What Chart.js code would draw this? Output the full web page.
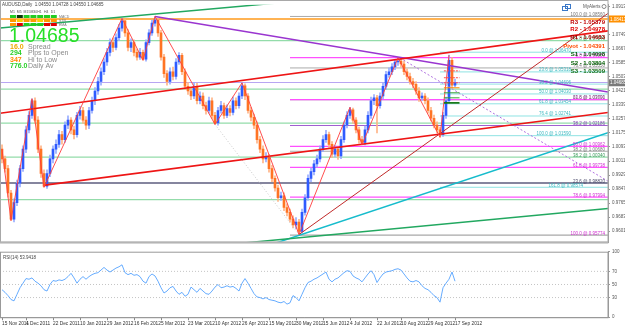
<!DOCTYPE html>
<html><head><meta charset="utf-8">
<script src="https://cdn.jsdelivr.net/npm/chart.js@4/dist/chart.umd.min.js"></script>
<style>
html,body{margin:0;padding:0;background:#fff;}
#wrap{position:relative;width:625px;height:328px;overflow:hidden;background:#fff;}
#c1{position:absolute;left:0;top:0;}
#c2{position:absolute;left:0;top:247px;}
</style></head><body>
<div id="wrap"><canvas id="c1" width="625" height="247"></canvas><canvas id="c2" width="625" height="81"></canvas></div>
<script>
// ---------------- DATA ----------------
const opens=[1.0080,1.0023,0.9966,0.9824,0.9671,0.9768,0.9881,0.9966,1.0080,1.0193,
1.0278,1.0363,1.0250,1.0080,0.9938,0.9864,0.9938,1.0023,1.0080,1.0108,
1.0165,1.0136,1.0221,1.0250,1.0193,1.0165,1.0278,1.0306,1.0250,1.0221,
1.0306,1.0363,1.0420,1.0476,1.0533,1.0590,1.0646,1.0703,1.0675,1.0732,
1.0788,1.0830,1.0760,1.0675,1.0703,1.0646,1.0618,1.0646,1.0607,1.0703,
1.0760,1.0817,1.0835,1.0760,1.0618,1.0522,1.0476,1.0533,1.0505,1.0590,
1.0629,1.0533,1.0448,1.0420,1.0391,1.0448,1.0363,1.0391,1.0335,1.0306,
1.0363,1.0278,1.0233,1.0306,1.0335,1.0278,1.0318,1.0295,1.0363,1.0335,
1.0391,1.0450,1.0391,1.0306,1.0267,1.0221,1.0136,1.0080,1.0023,1.0034,
0.9966,0.9909,0.9853,0.9796,0.9807,0.9739,0.9711,0.9671,0.9637,0.9654,
0.9600,0.9711,0.9796,0.9909,0.9949,0.9994,1.0023,1.0080,1.0136,1.0165,
1.0108,1.0051,1.0080,1.0040,1.0136,1.0221,1.0278,1.0310,1.0250,1.0193,
1.0136,1.0120,1.0193,1.0278,1.0363,1.0380,1.0335,1.0391,1.0448,1.0516,
1.0533,1.0561,1.0590,1.0595,1.0578,1.0533,1.0505,1.0476,1.0459,1.0420,
1.0380,1.0391,1.0363,1.0306,1.0261,1.0221,1.0193,1.0165,1.0278,1.0363,
1.0600,1.0455];
const highs=[1.0105,1.0040,0.9985,0.9840,0.9790,0.9900,0.9985,1.0100,1.0215,1.0300,
1.0375,1.0380,1.0270,1.0100,0.9960,0.9960,1.0045,1.0100,1.0135,1.0190,
1.0185,1.0240,1.0275,1.0265,1.0215,1.0295,1.0330,1.0325,1.0270,1.0325,
1.0385,1.0440,1.0500,1.0555,1.0610,1.0670,1.0725,1.0730,1.0755,1.0810,
1.0845,1.0840,1.0780,1.0725,1.0720,1.0665,1.0670,1.0660,1.0720,1.0780,
1.0835,1.0856,1.0845,1.0775,1.0635,1.0540,1.0555,1.0560,1.0610,1.0645,
1.0640,1.0550,1.0470,1.0440,1.0470,1.0465,1.0415,1.0410,1.0355,1.0385,
1.0380,1.0295,1.0325,1.0360,1.0350,1.0340,1.0335,1.0385,1.0380,1.0410,
1.0468,1.0462,1.0405,1.0325,1.0285,1.0240,1.0155,1.0100,1.0060,1.0050,
0.9985,0.9925,0.9870,0.9830,0.9825,0.9760,0.9730,0.9690,0.9680,0.9670,
0.9730,0.9815,0.9930,0.9970,1.0015,1.0045,1.0100,1.0160,1.0190,1.0180,
1.0125,1.0100,1.0095,1.0155,1.0240,1.0300,1.0325,1.0320,1.0265,1.0210,
1.0155,1.0215,1.0300,1.0385,1.0400,1.0395,1.0410,1.0470,1.0535,1.0555,
1.0580,1.0605,1.0615,1.0612,1.0595,1.0550,1.0525,1.0495,1.0475,1.0440,
1.0410,1.0405,1.0380,1.0325,1.0280,1.0240,1.0210,1.0295,1.0385,1.0630,
1.0615,1.0490];
const lows=[1.0000,0.9945,0.9800,0.9663,0.9655,0.9750,0.9860,0.9950,1.0060,1.0175,
1.0260,1.0230,1.0060,0.9915,0.9858,0.9850,0.9920,1.0000,1.0055,1.0090,
1.0110,1.0120,1.0200,1.0170,1.0140,1.0150,1.0255,1.0230,1.0195,1.0200,
1.0290,1.0340,1.0400,1.0455,1.0515,1.0570,1.0625,1.0650,1.0660,1.0715,
1.0770,1.0740,1.0655,1.0650,1.0625,1.0600,1.0605,1.0600,1.0595,1.0690,
1.0745,1.0800,1.0740,1.0600,1.0500,1.0455,1.0460,1.0485,1.0490,1.0575,
1.0515,1.0430,1.0400,1.0370,1.0375,1.0345,1.0345,1.0315,1.0285,1.0290,
1.0260,1.0225,1.0220,1.0290,1.0260,1.0265,1.0275,1.0280,1.0315,1.0320,
1.0375,1.0370,1.0290,1.0245,1.0200,1.0115,1.0060,1.0000,1.0005,0.9945,
0.9890,0.9835,0.9775,0.9780,0.9720,0.9690,0.9655,0.9620,0.9615,0.9581,
0.9590,0.9695,0.9780,0.9890,0.9930,0.9975,1.0005,1.0065,1.0120,1.0090,
1.0030,1.0035,1.0020,1.0025,1.0120,1.0205,1.0260,1.0230,1.0175,1.0115,
1.0105,1.0105,1.0175,1.0260,1.0340,1.0175,1.0320,1.0375,1.0430,1.0500,
1.0515,1.0545,1.0570,1.0560,1.0515,1.0485,1.0460,1.0440,1.0400,1.0360,
1.0365,1.0345,1.0290,1.0245,1.0205,1.0175,1.0150,1.0155,1.0260,1.0350,
1.0440,1.0445];
const closes=[1.0023,0.9966,0.9824,0.9671,0.9768,0.9881,0.9966,1.0080,1.0193,1.0278,
1.0363,1.0250,1.0080,0.9938,0.9864,0.9938,1.0023,1.0080,1.0108,1.0165,
1.0136,1.0221,1.0250,1.0193,1.0165,1.0278,1.0306,1.0250,1.0221,1.0306,
1.0363,1.0420,1.0476,1.0533,1.0590,1.0646,1.0703,1.0675,1.0732,1.0788,
1.0830,1.0760,1.0675,1.0703,1.0646,1.0618,1.0646,1.0607,1.0703,1.0760,
1.0817,1.0835,1.0760,1.0618,1.0522,1.0476,1.0533,1.0505,1.0590,1.0629,
1.0533,1.0448,1.0420,1.0391,1.0448,1.0363,1.0391,1.0335,1.0306,1.0363,
1.0278,1.0233,1.0306,1.0335,1.0278,1.0318,1.0295,1.0363,1.0335,1.0391,
1.0450,1.0391,1.0306,1.0267,1.0221,1.0136,1.0080,1.0023,1.0034,0.9966,
0.9909,0.9853,0.9796,0.9807,0.9739,0.9711,0.9671,0.9637,0.9654,0.9600,
0.9711,0.9796,0.9909,0.9949,0.9994,1.0023,1.0080,1.0136,1.0165,1.0108,
1.0051,1.0080,1.0040,1.0136,1.0221,1.0278,1.0310,1.0250,1.0193,1.0136,
1.0120,1.0193,1.0278,1.0363,1.0380,1.0335,1.0391,1.0448,1.0516,1.0533,
1.0561,1.0590,1.0595,1.0578,1.0533,1.0505,1.0476,1.0459,1.0420,1.0380,
1.0391,1.0363,1.0306,1.0261,1.0221,1.0193,1.0165,1.0278,1.0363,1.0600,
1.0455,1.0469];
const rsi=[42,38,33,27,25,35,45,52,59,58,
60,55,52,48,42,40,50,56,55,57,
56,58,62,67,60,52,58,62,58,62,
65,67,68,72,76,72,69,72,75,77,
80,68,65,67,64,65,62,55,52,62,
66,63,55,45,37,40,45,47,40,35,
38,32,35,46,42,38,44,40,36,35,
40,46,50,45,46,48,46,47,44,40,
52,59,52,44,36,31,30,28,30,27,
26,25,23,22,24,20,22,33,30,25,
35,45,53,55,58,60,63,66,69,58,
54,58,60,64,68,71,70,63,60,58,
54,60,66,71,65,53,60,66,69,70,
71,73,74,72,66,60,55,54,56,54,
48,44,42,38,33,30,23,45,52,58,
69,55];
const rsiLevels=[70,50,30];
const dateLabels=['15 Nov 2011','4 Dec 2011','22 Dec 2011','10 Jan 2012','29 Jan 2012','16 Feb 2012','5 Mar 2012','23 Mar 2012','10 Apr 2012','26 Apr 2012','15 May 2012','30 May 2012','15 Jun 2012','4 Jul 2012','22 Jul 2012','10 Aug 2012','29 Aug 2012','17 Sep 2012'];
const dateBars=[0,8,17,26,35,44,53,62,71,80,89,98,107,116,125,133,142,151];
const priceTicks=[1.09130,1.08310,1.07490,1.06670,1.05850,1.05030,1.04210,1.03390,1.02570,1.01750,1.00930,1.00110,0.99290,0.98470,0.97650,0.96830,0.96010];
const rsiTicks=[100,70,50,30,0];
// horizontal levels
const orangeLevel=[1.08413];
const lavenderLevel=[1.04700];
const navyLevel=[0.98820];
const greenLevels=[1.07146,1.04310,1.02330,1.00340,0.97850];
const greenPct=['61.8','','','38.2',''];
const magLevels=[1.06150,1.03701,1.02186,1.00962,0.99738,0.97994,0.95774];
const magPct=['0.0','23.6','38.2','50.0','61.8','78.6','100.0'];
const greyLevels=[1.08560,1.05550,1.03690,1.00680];
const greyPct=['100.0','76.4','61.8','38.2'];
const cyanLevels=[1.06470,1.05318,1.04606,1.04030,1.03454,1.02741,1.01590,0.98574];
const cyanPct=['0.0','23.6','38.2','50.0','61.8','76.4','100.0','161.8'];
const pivotNames=['R3','R2','R1','Pivot','S1','S2','S3'];
const pivotVals=[1.05379,1.04978,1.04683,1.04391,1.04098,1.03804,1.03509];
// trend lines [bar, price]
const greenUpper=[[-0.67,1.0788],[202,1.1110]];
const greenLower=[[76,0.9524],[202,0.9734]];
const cyanTrend=[[90,0.9524],[202,1.0176]];
const darkRedTrend=[[99,0.9581],[202,1.0874]];
const redUpper=[[-0.67,1.0290],[202,1.0772]];
const redLower=[[14.3,0.9870],[202,1.0295]];
const purpleTrend=[[51,1.0856],[202,1.0414]];
const purpleDots=[[132.7,1.0613],[202,0.9893]];
const greyDots=[[71,1.0225],[99,0.9581]];
const zigzag=[[0,1.0080],[3,0.9663],[10,1.0375],[14,0.9858],[40,1.0845],[47,1.0600],[51,1.0856],[71,1.0225],[80,1.0468],[99,0.9581],[116,1.0325],[120,1.0105],[132,1.0615],[146,1.0150],[149,1.0630]];
const lastPrice=1.04685;

// ---------------- CHART ----------------
const XMIN=-0.667, XMAX=202, YMAX=1.09248, YMIN=0.95357;
const FONT='Arial, "Liberation Sans", sans-serif';
const pts=a=>a.map(p=>({x:p[0],y:p[1]}));
const up=closes.map((c,i)=>c>=opens[i]);
function hl(level,x0,color,w,dash){return {type:'line',data:[{x:x0,y:level},{x:XMAX,y:level}],borderColor:color,borderWidth:w,borderDash:dash||[],pointRadius:0,fill:false,order:30};}
function tl(arr,color,w,dash,ord){return {type:'line',data:pts(arr),borderColor:color,borderWidth:w,borderDash:dash||[],pointRadius:0,fill:false,tension:0,order:ord||10};}
const ds=[];
ds.push(hl(orangeLevel[0],XMIN,'#ff9a1a',1.5));
ds.push(hl(lavenderLevel[0],XMIN,'#b8a6f2',1.2));
ds.push(hl(navyLevel[0],XMIN,'#5c5c7e',1.5));
greenLevels.forEach(v=>ds.push(hl(v,XMIN,'#93dcaa',1.2)));
const magColors=['#ff50ff','#ff50ff','#a060d0','#ff50ff','#ff50ff','#ff50ff','#a8a8a8'];
magLevels.forEach((v,i)=>ds.push(hl(v,96,magColors[i],1.2)));
greyLevels.forEach(v=>ds.push(hl(v,96,'#aaaaaa',1)));
cyanLevels.forEach(v=>ds.push(hl(v,146,'#8fe3e3',1)));
// candles
ds.push({type:'bar',data:closes.map((c,i)=>({x:i,y:[lows[i],highs[i]]})),backgroundColor:up.map(u=>u?'#98adff':'#ffb487'),barThickness:1,grouped:false,order:20});
ds.push({type:'bar',data:closes.map((c,i)=>({x:i,y:[opens[i],c]})),backgroundColor:up.map(u=>u?'#2f5bff':'#ff7424'),barThickness:2,minBarLength:1,grouped:false,order:19});
// trend lines
ds.push(tl(greenUpper,'#22a860',1.5));
ds.push(tl(greenLower,'#22a860',1.5));
ds.push(tl(cyanTrend,'#16bccc',1.5));
ds.push(tl(darkRedTrend,'#c02a2a',1));
ds.push(tl(redUpper,'#ee1515',1.6));
ds.push(tl(redLower,'#ee1515',1.6));
ds.push(tl(purpleTrend,'#9a35d0',1.5));
ds.push(tl(purpleDots,'#b070e0',1,[2,2]));
ds.push(tl(greyDots,'#c8c8c8',1,[1,2]));
ds.push(tl(zigzag,'#ff3b3b',0.9,[],5));
pivotVals.forEach((v,i)=>ds.push({type:'line',data:[{x:147.3,y:v},{x:152.5,y:v}],borderColor:i<3?'#ff4a4a':(i===3?'#ff8a00':(i===6?'#1a7a1a':'#3aa03a')),borderWidth:i===6?1.6:1,borderDash:i<3?[2,1]:[],pointRadius:0,order:4}));

const ctxFont=(s,b)=>(b?'bold ':'')+s+'px '+FONT;
const overlay={id:'overlay',afterDraw(chart){
  const c=chart.ctx, xs=chart.scales.x, ys=chart.scales.y, a=chart.chartArea;
  c.save();
  c.strokeStyle='#a8a8a8';c.lineWidth=1;c.strokeRect(0.5,0.5,a.right-0.5,a.bottom);
  c.fillStyle='#b4b4b4';c.fillRect(0,a.bottom-1,a.right,2);
  c.font=ctxFont(4.5);c.textBaseline='bottom';
  c.textAlign='right';
  magLevels.forEach((v,i)=>{c.fillStyle=i===2?'#8040b0':'#d030d0';c.fillText(magPct[i]+' @ '+v.toFixed(5),605,ys.getPixelForValue(v)+0.5);});
  greyLevels.forEach((v,i)=>{c.fillStyle='#777';c.fillText(greyPct[i]+' @ '+v.toFixed(5),605,ys.getPixelForValue(v)+0.5);});
  greenLevels.forEach((v,i)=>{if(greenPct[i]){c.fillStyle='#3a9a5a';c.fillText(greenPct[i]+' @ '+v.toFixed(5),605,ys.getPixelForValue(v)+0.5);}});
  c.fillStyle='#4a4a6a';c.fillText('23.6 @ '+navyLevel[0].toFixed(5),605,ys.getPixelForValue(navyLevel[0])+0.5);
  cyanLevels.forEach((v,i)=>{c.fillStyle='#3cb8c0';c.fillText(cyanPct[i]+' @ '+v.toFixed(5),i===7?583:571,ys.getPixelForValue(v)+0.5);});
  const pcol=['#c00000','#e00000','#a00000','#ff4a00','#0a5a0a','#0f6a0f','#0f6a0f'];
  const py=[24,31,39,48,56,65,73];
  c.font=ctxFont(6,true);c.textAlign='right';c.textBaseline='alphabetic';
  pivotNames.forEach((n,i)=>{c.fillStyle=pcol[i];c.fillText(n+' - '+pivotVals[i].toFixed(5),605,py[i]);});
  c.strokeStyle='#3a78c8';c.lineWidth=1;c.strokeRect(562.5,6.5,5,4);c.strokeRect(565.5,4.5,5,4);
  c.font=ctxFont(4.5);c.fillStyle='#555';c.textAlign='left';c.fillText('MyAlerts',583,8);
  c.strokeStyle='#888';c.beginPath();c.arc(604,6.5,2,0,Math.PI*2);c.stroke();
  const box=(v,bg)=>{const y=ys.getPixelForValue(v);c.fillStyle=bg;c.fillRect(609,y-3.5,16,7);c.fillStyle='#fff';c.font=ctxFont(4.5);c.textAlign='left';c.textBaseline='middle';c.fillText(v.toFixed(5),610,y+0.3);};
  box(orangeLevel[0],'#ff9000');
  box(lastPrice,'#7a7a7a');
  c.textBaseline='alphabetic';c.textAlign='left';
  c.font=ctxFont(4.5);c.fillStyle='#444';
  c.fillText('AUDUSD,Daily  1.04550 1.04728 1.04550 '+lastPrice.toFixed(5),2,6);
  const tf=['M1','M5','M15','M30','H1','H4','D1'];
  c.font=ctxFont(3.5);c.fillStyle='#555';
  tf.forEach((t,i)=>c.fillText(t,10+i*6.8,13));
  const rows=[['#22cc22','#0a3a0a','#22cc22','#22cc22','#22cc22','#22cc22','#22cc22'],
              ['#ff9a00','#ffcc00','#ff9a00','#ff9a00','#ffcc00','#ff9a00','#ff9a00'],
              ['#ff9a00','#e00000','#22cc22','#22cc22','#22cc22','#e00000','#e00000']];
  rows.forEach((r,j)=>r.forEach((col,i)=>{c.fillStyle=col;c.fillRect(10+i*6.8,15+j*4,6,3);}));
  c.fillStyle='#777';c.font=ctxFont(3.5);
  ['MACD','STR','EMA'].forEach((t,j)=>c.fillText(t,59,18+j*4));
  c.font=ctxFont(19.5);c.fillStyle='#27e027';c.fillText(lastPrice.toFixed(5),9,42);
  const info=[['16.0','Spread','#f0a800'],['294','Pips to Open','#2ad02a'],['347','Hi to Low','#ff8a00'],['776.0','Daily Av','#2ad02a']];
  info.forEach((r,j)=>{c.font=ctxFont(7,true);c.fillStyle=r[2];c.fillText(r[0],10,49+j*6.3);c.font=ctxFont(7);c.fillStyle='#8a8a8a';c.fillText(r[1],28,49+j*6.3);});
  c.restore();
}};

new Chart(document.getElementById('c1'),{
  type:'bar',
  data:{datasets:ds},
  options:{responsive:false,animation:false,events:[],
    layout:{padding:{top:1,bottom:1,left:0,right:0}},
    plugins:{legend:{display:false},tooltip:{enabled:false}},
    scales:{
      x:{type:'linear',min:XMIN,max:XMAX,display:false,offset:false,grid:{offset:false}},
      y:{type:'linear',position:'right',min:YMIN,max:YMAX,beginAtZero:false,
        afterBuildTicks:s=>{s.ticks=priceTicks.map(v=>({value:v}));},
        afterFit:s=>{s.width=17;},
        ticks:{autoSkip:false,font:{size:4.5,family:FONT},color:'#555',padding:2,callback:v=>Number(v).toFixed(5)},
        grid:{display:true,drawOnChartArea:false,tickLength:2,color:'#999'},
        border:{display:true,color:'#999'}}
    }},
  plugins:[overlay]
});

const rsiPlugin={id:'rsiframe',afterDraw(chart){
  const c=chart.ctx,a=chart.chartArea;c.save();
  c.strokeStyle='#999';c.lineWidth=1;c.strokeRect(0.5,a.top+0.5,a.right-0.5,a.bottom-a.top);
  c.font=ctxFont(4.5);c.fillStyle='#444';c.textAlign='left';c.fillText('RSI(14) 53.9418',3,a.top+7);
  c.restore();
}};
const rds=[{type:'line',data:rsi.map((v,i)=>({x:i,y:v})),borderColor:'#55a3ff',borderWidth:0.9,pointRadius:0,tension:0,fill:false,order:1}];
rsiLevels.forEach(v=>rds.push({type:'line',data:[{x:XMIN,y:v},{x:XMAX,y:v}],borderColor:'#c4c4c4',borderWidth:1,borderDash:[1,2],pointRadius:0,fill:false,order:5}));
new Chart(document.getElementById('c2'),{
  type:'line',
  data:{datasets:rds},
  options:{responsive:false,animation:false,events:[],
    layout:{padding:{top:2,bottom:0,left:0,right:0}},
    plugins:{legend:{display:false},tooltip:{enabled:false}},
    scales:{
      x:{type:'linear',min:XMIN,max:XMAX,position:'bottom',
        afterBuildTicks:s=>{s.ticks=dateBars.map(v=>({value:v}));},
        ticks:{autoSkip:false,maxRotation:0,align:'start',font:{size:4.8,family:FONT},color:'#333',padding:1,callback:(v,i)=>dateLabels[i]},
        grid:{display:true,drawOnChartArea:false,tickLength:3,color:'#888'},
        border:{display:true,color:'#999'}},
      y:{type:'linear',position:'right',min:0,max:100,
        afterBuildTicks:s=>{s.ticks=rsiTicks.map(v=>({value:v}));},
        afterFit:s=>{s.width=17;},
        ticks:{autoSkip:false,font:{size:4.5,family:FONT},color:'#555',padding:2},
        grid:{display:true,drawOnChartArea:false,tickLength:2,color:'#999'},
        border:{display:true,color:'#999'}}
    }},
  plugins:[rsiPlugin]
});
</script>
</body></html>
